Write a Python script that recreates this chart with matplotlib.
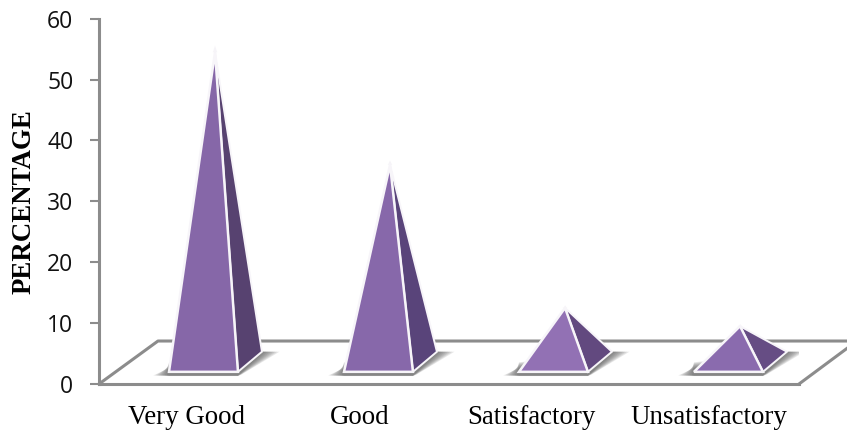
from matplotlib import pyplot as plt
from matplotlib.patches import Polygon
from matplotlib.lines import Line2D

categories = ["Very Good", "Good", "Satisfactory", "Unsatisfactory"]
values = [54.5, 36, 12.5, 9.5]
y_ticks = [0, 10, 20, 30, 40, 50, 60]

front_colors = ["#8667A8", "#8768AA", "#9271B4", "#8A6BAE"]
side_colors = ["#574270", "#59447A", "#62497F", "#664D84"]
GREY = "#8C8C8C"

fig = plt.figure(figsize=(8.47, 4.36), dpi=100)
ax = fig.add_axes([99 / 847, 1 - 384 / 436, 700 / 847, (384 - 18.7) / 436])
ax.set_xlim(-0.5, 3.5)
ax.set_ylim(0, 60)

# floor of the fake 3d chart
ax.add_line(Line2D([-0.5, -0.163, 3.8], [0, 7.06, 7.06], color=GREY, lw=2.2, clip_on=False, zorder=1))
ax.add_line(Line2D([3.5, 3.8], [0, 6.4], color=GREY, lw=2.2, clip_on=False, zorder=1))

for i, v in enumerate(values):
    x_left = i - 0.1
    x_right = i + 0.294
    x_back = i + 0.431
    x_top = i + 0.163

    # soft shadow on the floor, darker towards the pyramid
    for k in range(8, 0, -1):
        s = k / 8
        ax.add_patch(Polygon(
            [(x_left - 0.09 * s, 1.5 - 0.1 * s), (x_left, 2 + 1.1 * (1 - s) + 0.6),
             (x_back, 5.3), (x_back + 0.1 * s, 5.3),
             (x_right + 0.02, 1.9 - 0.35 * s), (x_right, 1.4 - 0.1 * s), (x_left, 1.4 - 0.1 * s)],
            closed=True, facecolor="#555555", edgecolor="none", alpha=0.14, zorder=2))

    # faint glint above the tip
    ax.add_patch(Polygon([(x_top - 0.012, v), (x_top, v * 1.02), (x_top + 0.012, v)],
                         closed=True, facecolor="#F6F4F8", edgecolor="none", zorder=3))

    ax.add_patch(Polygon([(x_right, 2), (x_back, 5.3), (x_top, v)], closed=True,
                         facecolor=side_colors[i], edgecolor="#F7F5F9", lw=1.4, zorder=4))
    ax.add_patch(Polygon([(x_left, 2), (x_right, 2), (x_top, v)], closed=True,
                         facecolor=front_colors[i], edgecolor="#F7F5F9", lw=1.8, zorder=5))

for name in ["top", "right"]:
    ax.spines[name].set_visible(False)
for name in ["left", "bottom"]:
    ax.spines[name].set_color(GREY)
    ax.spines[name].set_linewidth(2.2)

ax.set_yticks(y_ticks)
ax.tick_params(axis="y", length=6.5, width=1.5, color=GREY, pad=12, labelsize=16.5)
for lab in ax.get_yticklabels():
    lab.set_family("Open Sans")
    lab.set_color("#111111")

ax.set_xticks([])
label_shift = [-0.5, -1.5, -5.5, -2.5]
for i, name in enumerate(categories):
    ax.annotate(name, (i, 0), xytext=(label_shift[i], -21), textcoords="offset pixels",
                ha="center", va="top", family="Liberation Serif", fontsize=19.4, color="black")

fig.text(24 / 847, 1 - 202 / 436, "PERCENTAGE", rotation=90, ha="center", va="center",
         family="Liberation Serif", fontweight="bold", fontsize=19.4, color="black")

fig.savefig("out.png", dpi=100)
